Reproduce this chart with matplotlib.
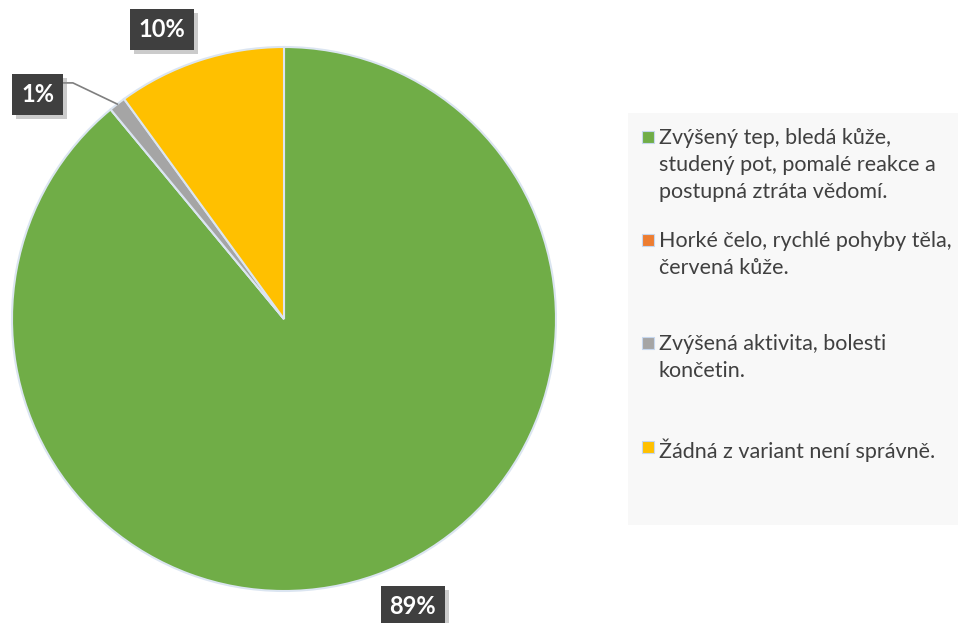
import numpy as np
import matplotlib.pyplot as plt
from matplotlib.patches import Rectangle
import matplotlib.patheffects as pe

plt.rcParams['font.family'] = ['Lato', 'DejaVu Sans']

# Answer shares (percent)
labels = ['Zvýšený tep, bledá kůže,\nstudený pot, pomalé reakce a\npostupná ztráta vědomí.',
          'Horké čelo, rychlé pohyby těla,\nčervená kůže.',
          'Zvýšená aktivita, bolesti\nkončetin.',
          'Žádná z variant není správně.']
values = [89, 0, 1, 10]
colors = ['#70AD47', '#ED7D31', '#A5A5A5', '#FFC000']
pct_text = ['89%', '', '1%', '10%']

W, H = 958, 623
fig = plt.figure(figsize=(W / 100, H / 100), dpi=100)

# pie axes: centre (284, 319) px, radius 272 px
cx, cy, r = 284, 319, 272
ax = fig.add_axes([(cx - r) / W, (H - cy - r) / H, 2 * r / W, 2 * r / H])
wedges, _ = ax.pie(values, colors=colors, startangle=90, counterclock=False,
                   radius=1, wedgeprops=dict(edgecolor='#dbe5f1', linewidth=1.5))
ax.set_xlim(-1, 1)
ax.set_ylim(-1, 1)
ax.axis('off')

# data label positions (axes data units)
label_pos = {0: (0.474, -1.058), 2: (-0.906, 0.826), 3: (-0.449, 1.065)}
for i, (lx, ly) in label_pos.items():
    t = ax.text(lx, ly, pct_text[i], ha='center', va='center', color='white',
                fontsize=17, fontweight='bold', clip_on=False, zorder=5,
                bbox=dict(boxstyle='square,pad=0.38', facecolor='#3f3f3f',
                          edgecolor='none', linewidth=0))
    t.get_bbox_patch().set_path_effects([
        pe.SimplePatchShadow(offset=(3, -3), shadow_rgbFace='#8c8c8c', alpha=0.45),
        pe.Normal()])

# leader line for the 1% slice
w = wedges[2]
mid = np.deg2rad((w.theta1 + w.theta2) / 2)
ax.plot([np.cos(mid), -0.776, -0.812], [np.sin(mid), 0.868, 0.868],
        color='#7f7f7f', lw=1.2, clip_on=False, zorder=4)

# legend panel
fig.patches.append(Rectangle((628 / W, (H - 525) / H), (W - 628) / W, (525 - 113) / H,
                             transform=fig.transFigure, facecolor='#f8f8f8',
                             edgecolor='none', zorder=0))
first_line_y = [137, 240, 343, 447]
for lab, col, y in zip(labels, colors, first_line_y):
    fig.patches.append(Rectangle((642 / W, (H - y - 6) / H), 12 / W, 12 / H,
                                 transform=fig.transFigure, facecolor=col,
                                 edgecolor='#c6d7ee', linewidth=0.8))
    fig.text(659 / W, (H - y + 9) / H, lab, ha='left', va='top', fontsize=15.5,
             color='#404040', linespacing=1.44)

fig.savefig('out.png', dpi=100)
